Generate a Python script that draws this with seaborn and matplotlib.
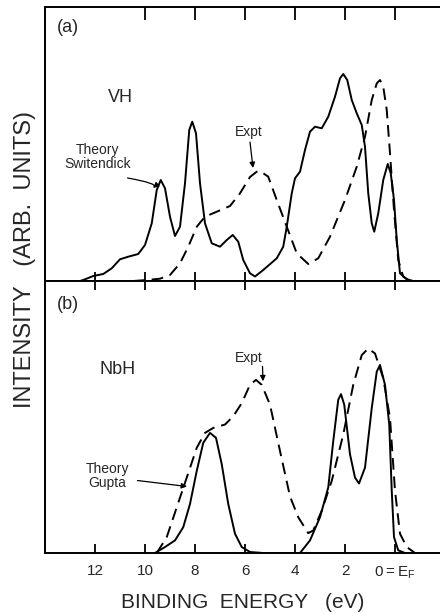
import numpy as np
import pandas as pd
import matplotlib
matplotlib.use("Agg")
import matplotlib.pyplot as plt
import seaborn as sns

# ---------------- data (binding energy in eV, intensity in arbitrary units) -------------
vh_theory_E = [12.6, 12.47, 12.07, 11.67, 11.33, 11.0, 10.67, 10.27, 10.0, 9.73, 9.53, 9.37,
               9.2, 9.0, 8.8, 8.6, 8.4, 8.23, 8.11, 7.96, 7.8, 7.6, 7.33, 7.0, 6.73, 6.49,
               6.27, 6.07, 5.8, 5.6, 5.27, 4.73, 4.47, 4.33, 4.13, 4.0, 3.8, 3.6, 3.4, 3.2,
               2.93, 2.67, 2.4, 2.2, 2.07, 1.91, 1.73, 1.53, 1.33, 1.2, 1.07, 0.93, 0.83,
               0.67, 0.47, 0.29, 0.17, 0.04, -0.07, -0.2, -0.47, -0.73]
vh_theory_I = [0, 1, 5, 7, 12.7, 21.7, 24.3, 27, 36, 57.7, 91, 101,
               92.7, 64.3, 45, 54.3, 97.7, 151, 159.3, 147.7, 97.7, 57.7, 37.7, 34.3, 41, 46,
               39.3, 21, 7.7, 4.5, 11, 22.7, 34.3, 54.3, 87.7, 102.7, 109.3, 131, 149.3, 154.3,
               152.7, 164.3, 184.3, 202.7, 207, 201, 181, 167.7, 156, 134.3, 87.7, 57.7, 49.3,
               67.7, 101, 117, 107.7, 81, 41, 7.7, 1.7, 0]

vh_expt_E = [10.47, 9.93, 9.4, 9.0, 8.6, 8.27, 7.93, 7.6, 7.13, 6.6, 6.2, 5.8, 5.53, 5.4,
             5.07, 4.73, 4.33, 3.93, 3.47, 3.07, 2.6, 2.0, 1.53, 1.2, 0.93, 0.73, 0.6, 0.47,
             0.33, 0.2, 0.04, -0.13, -0.33, -0.6]
vh_expt_I = [0, 1, 2.3, 6, 17.7, 34.3, 54.3, 64.3, 69.3, 75, 87.7, 104, 109.3, 110,
             104.3, 81, 54.3, 27.7, 17, 22.7, 44.3, 81, 114.3, 144.3, 181, 197.7, 201, 194.3,
             171, 127.7, 71, 21, 4.3, 0]

nbh_theory_E = [9.6, 9.2, 8.8, 8.47, 8.2, 7.93, 7.67, 7.4, 7.16, 6.93, 6.67, 6.4, 6.13, 5.8,
                5.27, 3.8, 3.4, 3.0, 2.67, 2.47, 2.27, 2.16, 2.03, 1.8, 1.6, 1.44, 1.2, 0.93,
                0.73, 0.6, 0.4, 0.23, 0.13, 0.04, -0.13, -0.4]
nbh_theory_I = [0, 6, 12.7, 26, 49.4, 82.7, 111, 121, 116, 89.4, 49.4, 19.4, 6, 1,
                0, 0, 12.7, 36, 66, 112.7, 154.4, 160, 149.4, 99.4, 76, 70, 86, 146,
                182.7, 189.4, 169.4, 129.4, 62.7, 16, 2.7, 0]

nbh_expt_E = [9.53, 9.13, 8.73, 8.33, 7.93, 7.6, 7.27, 6.8, 6.47, 6.13, 5.8, 5.56, 5.33,
              5.0, 4.6, 4.2, 3.87, 3.47, 3.27, 2.93, 2.53, 2.07, 1.67, 1.33, 1.07, 0.8,
              0.47, 0.2, 0.0, -0.2, -0.47, -0.8]
nbh_expt_I = [0, 16, 46, 76, 106, 121, 126, 129.4, 137.7, 151, 169.4, 174.4, 169.4,
              149.4, 102.7, 57, 36, 20, 22.7, 42.7, 72.7, 119.4, 169.4, 199.4, 206, 201,
              176, 136, 62.7, 19.4, 6, 0]

tick_values = [12, 10, 8, 6, 4, 2, 0]
tick_labels = ["12", "10", "8", "6", "4", "2", r"$\mathregular{0=E_F}$"]
top_a_ticks = [10, 8, 6, 4, 2, 0]

# ---------------- figure ----------------
sns.set_theme(style="white")
plt.rcParams["font.family"] = ["Liberation Sans", "DejaVu Sans"]

W, H = 440, 614
fig = plt.figure(figsize=(W / 100, H / 100), dpi=100)
left = 45 / W
ax_a = fig.add_axes([left, 1 - 281 / H, 1 - left, 274 / H])
ax_b = fig.add_axes([left, 1 - 553 / H, 1 - left, 272 / H])

lw = 1.4
dash = (0, (6, 3.5))

def draw(ax, tE, tI, eE, eI):
    sns.lineplot(x=tE, y=tI, ax=ax, color="black", lw=lw, sort=False, estimator=None,
                 solid_joinstyle="round")
    sns.lineplot(x=eE, y=eI, ax=ax, color="black", lw=lw, sort=False, estimator=None,
                 linestyle=dash, dash_joinstyle="round")

draw(ax_a, vh_theory_E, vh_theory_I, vh_expt_E, vh_expt_I)
draw(ax_b, nbh_theory_E, nbh_theory_I, nbh_expt_E, nbh_expt_I)

for ax, top_ticks in ((ax_a, top_a_ticks), (ax_b, tick_values)):
    ax.set_xlim(14, -1.8)
    ax.set_ylim(0, 274)
    ax.set_yticks([])
    ax.set_ylabel("")
    ax.set_xlabel("")
    ax.spines["right"].set_visible(False)
    for s in ("left", "top", "bottom"):
        ax.spines[s].set_color("black")
        ax.spines[s].set_linewidth(1.4)
    ax.set_xticks(tick_values)
    ax.tick_params(axis="x", direction="in", length=6.5, width=1.3, color="black",
                   bottom=True, top=False)
    sec = ax.secondary_xaxis("top")
    sec.set_xticks(top_ticks)
    sec.set_xticklabels([])
    sec.tick_params(axis="x", direction="in", length=6.5 if ax is ax_b else 9, width=1.3,
                    color="black")
    sec.spines["top"].set_visible(False)

ax_a.set_xticklabels([])
ax_b.set_xticklabels(tick_labels, fontsize=11)
ax_b.tick_params(axis="x", pad=8)

ax_b.set_xlabel("BINDING  ENERGY   (eV)", fontsize=15, labelpad=9)
fig.text(25 / W, 1 - 260 / H, "INTENSITY   (ARB.  UNITS)", rotation=90, fontsize=17,
         ha="center", va="center")

# ---------------- annotations ----------------
arrow = dict(arrowstyle="-|>", color="black", lw=0.9, mutation_scale=8,
             shrinkA=0, shrinkB=0)

ax_a.text(13.1, 254, "(a)", fontsize=13, ha="center", va="center")
ax_a.text(11.0, 183, "VH", fontsize=13, ha="center", va="center")
ax_a.text(11.9, 124, "Theory\nSwitendick", fontsize=10, ha="center", va="center",
          linespacing=1.0)
ax_a.annotate("", xy=(9.68, 93), xytext=(10.7, 103),
              arrowprops=dict(arrow, connectionstyle="angle3,angleA=-10,angleB=40"))
ax_a.text(5.84, 149, "Expt", fontsize=10, ha="center", va="center")
ax_a.annotate("", xy=(5.68, 113), xytext=(5.8, 139),
              arrowprops=dict(arrow, connectionstyle="arc3,rad=0"))

ax_b.text(13.1, 250, "(b)", fontsize=13, ha="center", va="center")
ax_b.text(11.1, 185, "NbH", fontsize=13, ha="center", va="center")
ax_b.text(11.5, 78, "Theory\nGupta", fontsize=10, ha="center", va="center",
          linespacing=1.0)
ax_b.annotate("", xy=(8.32, 67), xytext=(10.3, 73),
              arrowprops=dict(arrow, connectionstyle="arc3,rad=0"))
ax_b.text(5.84, 196, "Expt", fontsize=10, ha="center", va="center")
ax_b.annotate("", xy=(5.28, 173), xytext=(5.3, 188),
              arrowprops=dict(arrow, connectionstyle="arc3,rad=0"))

fig.savefig("out.png", dpi=100)
